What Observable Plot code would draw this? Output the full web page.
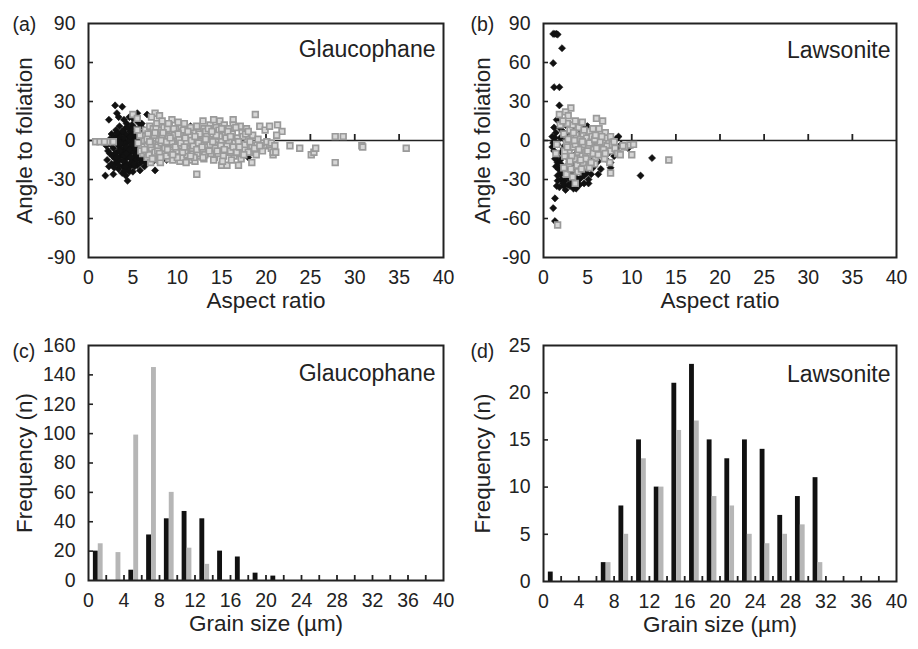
<!DOCTYPE html>
<html><head><meta charset="utf-8">
<script src="https://cdn.jsdelivr.net/npm/d3@7"></script>
<script src="https://cdn.jsdelivr.net/npm/@observablehq/plot@0.6"></script>
<style>
body{margin:0;background:#fff;}
#wrap{position:relative;width:918px;height:649px;overflow:hidden;background:#fff;}
#wrap svg{position:absolute;}
</style></head><body><div id="wrap"></div>
<script>
// ---------- DATA ----------
const aspectTicks = [0,5,10,15,20,25,30,35,40];
const angleTicks = [-90,-60,-30,0,30,60,90];
const grainTicks = [0,4,8,12,16,20,24,28,32,36,40];
const grainMinor = [2,4,6,8,10,12,14,16,18,20,22,24,26,28,30,32,34,36,38];
const binCenters = [1,3,5,7,9,11,13,15,17,19,21,23,25,27,29,31,33,35,37,39];
const glaucFreqTicks = [0,20,40,60,80,100,120,140,160];
const lawsFreqTicks = [0,5,10,15,20,25];

// Glaucophane grain-size frequencies (black / grey)
const glaucBlackFreq = [20,0,7,31,42,47,42,20,16,5,3,0,0,0,0,0,0,0,0,0];
const glaucGreyFreq  = [25,19,99,145,60,22,11,0,0,0,0,0,0,0,0,0,0,0,0,0];
// Lawsonite grain-size frequencies (black / grey)
const lawsBlackFreq = [1,0,0,2,8,15,10,21,23,15,13,15,14,7,9,11,0,0,0,0];
const lawsGreyFreq  = [0,0,0,2,5,13,10,16,17,9,8,5,4,5,6,2,0,0,0,0];

// Glaucophane: aspect ratio vs angle to foliation
const glaucBlack = [
[3.0,27],[3.8,26],[3.2,21],[3.4,18],[2.3,16],[5.5,21],[6.6,20],[11.5,11],[2.1,-15],[2.3,-20],[1.9,-27],[2.8,-26],
[4.2,-27],[4.4,-31],[4.6,-24],[5.8,-23],[7.5,-23],[3.9,-20],[3.4,-22],
[2.6,5],[2.9,2],[3.1,8],[3.3,4],[3.5,11],[3.7,6],[3.9,1],[4.1,9],[4.3,13],[4.5,3],[4.7,7],[4.9,12],[5.1,5],[5.3,9],
[5.6,14],[5.9,11],[6.1,6],[6.3,2],[6.6,8],[4.0,16],[4.6,18],[5.0,17],[6.0,13],
[2.5,-3],[2.8,-6],[3.0,-1],[3.2,-9],[3.4,-4],[3.6,-12],[3.8,-2],[4.0,-7],[4.2,-14],[4.4,-1],[4.6,-10],[4.8,-5],
[5.0,-16],[5.2,-3],[5.4,-8],[5.6,-12],[5.8,-1],[6.0,-6],[6.2,-15],[6.4,-9],[6.7,-4],[7.0,-11],[7.2,-2],
[2.7,-12],[3.1,-17],[3.5,-15],[3.9,-11],[4.3,-18],[4.7,-20],[5.1,-13],[5.5,-19],[5.9,-17],[6.3,-20],[6.8,-14],
[3.3,0],[3.7,-8],[4.1,-3],[4.5,-6],[4.9,0],[5.3,-10],[5.7,-5],[6.1,-2],[6.5,4],[7.0,-7],[7.4,3],
[2.2,-8],[2.4,1],[2.0,-4],[3.6,3],[4.2,5],[4.8,9],[5.4,2],[6.0,-10],[4.4,-22],[5.0,-24],[3.8,-25],[5.2,-20],
[6.5,-17],[3.0,-14],[2.6,-18],[4.0,-16],[4.6,-13],[5.8,-7],[6.9,0],[7.3,-16],
[3.2,6],[3.6,-6],[4.0,2],[4.4,-9],[4.8,-13],[5.2,1],[5.6,-4],[6.0,2],[3.4,-19],[4.2,-5],[4.6,0],[5.0,-8],
[5.4,-15],[3.8,7],[4.4,10],[5.0,4],[5.6,-9],[6.2,-5],[3.0,-10],[3.6,-2],[4.0,-12],[4.8,-17],[5.2,-6],[5.8,-14],
[6.6,-10],[2.9,-21],[4.1,-23],[4.9,-3],[5.5,-1],[3.5,-8],[4.3,-10],[5.1,-18],[4.7,3],[3.9,-16],[6.4,-13],
[2.4,-10],[3.2,-13],[4.6,-7],[5.4,-11],[4.2,-20],
[8.0,-4],[8.5,2],[9.0,-8],[9.5,5],[10.2,-12],[8.8,-15],[10.8,3],[12.0,-9],[13.5,-1],[16.0,0],[18.0,-13],[17.5,-6],[14.6,-3],[11.0,-6]
];
const glaucGrey = [
[0.8,-1],[1.3,-1],[2.1,-1],[2.8,-1],[1.8,-1],
[5.0,20],[5.5,17],[7.5,21],[8.0,19],[9.4,16],[8.6,13],[10.2,11],[10.8,13],[11.8,9],[12.4,7],[12.9,15],[13.7,12],
[14.1,16],[14.8,15],[15.3,12],[16.3,16],[16.3,12],[17.1,11],[17.8,9],[18.8,20],[19.3,11],[19.9,8],[20.4,11],
[21.3,12],[21.8,7],[21.2,4],[15.8,9],[13.0,9],[11.0,8],[9.8,9],[12.2,11],[14.4,10],
[22.7,-4],[23.8,-6],[25.1,-11],[25.4,-9],[25.6,-6],[27.8,3],[28.7,3],[27.8,-17],[30.8,-4],[30.9,-5],[35.8,-6],
[12.2,-26],[15.0,-19],[15.6,-19],[16.9,-19],[18.4,-17],[18.8,-9],[18.9,-11],[20.6,-6],[20.8,-11],[20.8,-9],
[19.9,-4],[19.5,-2],[20.4,-3],[17.2,-14],[16.4,-12],[14.2,-13],[13.0,-14],[11.6,-15],[10.3,-16],[9.0,-14],
[8.0,-15],[7.0,-13],[12.0,-16],[14.6,-10],[16.0,-9],[17.6,-7],[18.4,-4],[15.2,-5],[13.8,-7],
[6.2,3],[6.5,-3],[6.8,-8],[7.0,6],[7.2,-1],[7.4,-11],[7.6,2],[7.8,-5],[8.0,8],[8.2,-2],[8.4,-9],[8.6,4],
[8.8,-12],[9.0,0],[9.2,-6],[9.4,7],[9.6,-3],[9.8,-10],[10.0,2],[10.2,-7],[10.4,5],[10.6,-1],[10.8,-12],[11.0,4],
[11.2,-5],[11.4,1],[11.6,-9],[11.8,6],[12.0,-3],[12.2,2],[12.4,-7],[12.6,-12],[12.8,4],[13.0,-2],[13.2,7],
[13.4,-5],[13.6,1],[13.8,-10],[14.0,5],[14.2,-3],[14.4,1],[14.6,-7],[14.8,3],[15.0,-1],[15.2,-12],[15.4,4],
[15.6,-4],[15.8,0],[16.0,-8],[16.2,5],[16.5,-2],[16.8,2],[17.0,-10],[17.3,6],[17.6,-3],[17.9,1],[18.2,-1],[18.5,4],
[6.4,8],[6.9,11],[7.3,9],[7.7,13],[8.1,-17],[8.5,10],[9.1,12],[9.5,-15],[10.1,14],[10.5,-13],[11.1,-11],
[11.5,10],[12.3,-10],[12.9,-8],[13.5,9],[14.1,-15],[14.7,8],[15.1,-16],[15.7,7],[16.1,-15],[16.6,10],[17.4,3],
[18.0,-9],[18.7,-6],[19.1,1],[19.6,-8],[20.1,-1],[20.6,-2],[21.0,-4],[21.1,-9],
[6.0,-5],[6.3,0],[6.7,5],[7.1,-6],[7.5,-9],[7.9,1],[8.3,3],[8.7,-4],[9.3,-9],[9.7,4],[10.3,-4],[10.7,8],
[11.3,-2],[11.7,-6],[12.1,0],[12.7,-1],[13.3,3],[13.7,-3],[14.3,-6],[14.9,-4],[15.5,2],[16.3,-5],[16.9,-1],
[17.7,5],[19.3,-4],
[5.6,-2],[5.8,4],[6.1,-10],[6.6,-13],[5.5,8],[5.9,-8],[7.0,-17],[8.9,9],[9.9,-8],[10.9,-8],[11.9,-13],[12.5,5],
[13.1,-11],[14.5,-8],[15.3,-7],[16.7,-9],[17.5,-11],
[6.6,1],[7.0,-3],[7.4,4],[7.8,-8],[8.2,0],[8.6,-6],[9.0,3],[9.4,-1],[9.8,-5],[10.2,1],[10.6,-9],[11.0,-2],
[11.4,4],[11.8,-4],[12.2,-7],[6.8,-11],[7.2,-14],[7.6,9],[8.0,-10],[8.4,6],[8.8,-1],[9.2,2],[9.6,9],[10.0,-13],
[10.4,-2],[10.8,-5],[11.2,7],[11.6,0],[12.0,3],[12.4,-2],[12.8,-5],[13.2,1],[13.6,-8],[14.0,-1],[14.4,4],
[6.3,-7],[6.9,-1],[7.5,6],[8.1,-13],[8.9,-7],[9.5,-11],[10.1,5],[10.9,2],[11.5,-12],[12.9,-13],[13.9,7],
[15.0,9],[16.0,3],[17.0,-5],[18.0,7],[9.0,13],[11.0,-17],[8.3,15],[7.1,18]
];

// Lawsonite: aspect ratio vs angle to foliation
const lawsBlack = [
[1.1,82],[1.3,82],[1.5,82],[1.6,81.5],[2.1,71],[1.1,59.5],[1.2,41],[1.8,41],[1.8,27],[1.1,-52],[1.3,-44.5],
[1.3,-62],[12.3,-13.5],[11.0,-27],[8.5,3],[7.6,-21],[5.1,-33],[5.1,-30],[3.4,-37],[2.3,-35],[1.5,-35],
[1.9,-26],[7.6,-17],
[1.0,3],[1.0,-5],[1.2,-8],[1.3,2],[1.5,-12],[1.6,-17],[1.7,-22],[1.9,-15],[2.0,-30],[2.2,-25],[2.4,-31],
[2.6,-20],[2.8,-34],[3.0,-27],[3.2,-24],[3.3,-32],[3.6,-28],[3.8,-22],[4.0,-30],[4.3,-25],[4.6,-19],[4.9,-25],
[5.3,-20],[5.6,-15],[6.0,-9],[6.4,-4],[6.8,-12],[7.2,-6],[7.8,-2],[8.3,-6],[8.8,-3],
[1.4,6],[1.8,10],[2.0,15],[2.2,7],[2.5,12],[2.8,5],[3.1,9],[3.4,3],[3.8,12],[4.2,6],[4.5,13],[5.0,11],[5.5,4],
[6.0,5],[6.6,2],
[1.6,-3],[2.0,-9],[2.4,-4],[2.7,-13],[3.0,-7],[3.3,-16],[3.7,-10],[4.0,-2],[4.4,-12],[4.8,-6],[5.2,-9],[5.8,-3],
[6.2,-16],[7.0,-14],[2.5,-38],[3.7,-37],[4.1,-34],[2.9,-29],[1.6,-27],[2.1,-19],[5.0,-14],[5.4,-26],[6.5,-22],
[7.3,-10],[1.2,-1],[8.0,-12],[9.6,-6],[4.6,-33],
[1.1,-2],[1.3,-14],[1.4,-20],[1.6,-31],[1.8,-36],[2.2,-33],[2.6,-27],[3.0,-35],[3.4,-29],[4.2,-29],[4.6,-27],
[1.2,10],[1.5,16],[2.3,-6],[2.7,-22],[3.1,-14],[3.5,-19],[4.1,-21],[5.6,-21],[6.2,-26],[7.0,-2],[8.2,1],[1.9,2],[2.5,0]
];
const lawsGrey = [
[1.6,-65],[3.1,25],[1.8,20],[2.5,22],[2.8,19],[6.0,17],[6.7,15],[10.0,-11],[14.2,-15],[9.8,-3.5],[9.2,-5],
[10.2,-3],[7.6,-25],[7.5,-17],[3.6,-33],[2.6,-26],[1.5,-3],[1.4,-10],[1.9,12],
[2.3,5],[2.6,-2],[2.9,-9],[3.0,8],[3.2,2],[3.4,-5],[3.5,-14],[3.7,4],[3.8,-1],[3.9,-9],[4.0,10],[4.1,-18],
[4.2,1],[4.3,-6],[4.4,-12],[4.5,5],[4.6,-3],[4.7,-20],[4.8,-9],[4.9,2],[5.0,-15],[5.1,-4],[5.2,7],[5.3,-11],
[5.4,-1],[5.5,3],[5.7,-7],[5.9,-13],[6.0,0],[6.2,-5],[6.4,5],[6.6,-9],[6.8,-2],[7.0,6],[7.2,-4],[7.4,0],
[7.6,-8],[7.8,-3],[8.1,-6],[8.4,-10],[8.7,-11],[9.0,-4],[3.3,12],[3.6,15],[4.4,14],[5.6,9],[6.3,9],[2.9,-18],
[3.1,-22],[3.9,-24],[4.5,-17],[5.8,-18],[2.4,-12],[2.7,13],[6.9,-14],[5.2,-21],
[2.4,-8],[2.8,1],[3.2,-12],[3.6,-3],[4.0,-7],[4.4,-1],[4.8,-14],[5.2,-2],[5.6,-10],[6.0,-6],[6.4,-1],[6.8,-7],
[7.2,2],[3.0,-16],[3.4,6],[3.8,-19],[4.2,-15],[4.6,8],[5.0,-8],[5.4,-17],[5.8,1],[6.2,-11],[6.6,3],[7.0,-10],
[3.5,0],[4.3,-22],[2.7,-5],[5.9,4],[7.6,3],[8.0,-1],[2.2,15],[2.3,-21],[3.3,-28]
];

// ---------- DRAWING ----------
const FONT = "'Liberation Sans', Arial, Helvetica, sans-serif";
const INK = "#222";
const wrap = document.getElementById("wrap");

function baseStyle() {
  return {fontFamily: FONT, color: INK, background: "transparent", overflow: "visible"};
}

function scatterPanel(cfg) {
  return Plot.plot({
    width: cfg.width, height: cfg.height,
    marginLeft: cfg.ml, marginRight: cfg.mr, marginTop: cfg.mt, marginBottom: cfg.mb,
    style: baseStyle(),
    x: {domain: [0, 40]},
    y: {domain: [-90, 90]},
    marks: [
      Plot.ruleY([0], {stroke: INK, strokeWidth: 1.6}),
      Plot.ruleX(aspectTicks.slice(1, -1), {x: d => d, y1: 0, y2: 0, insetTop: -6, stroke: INK, strokeWidth: 1.8}),
      Plot.ruleY(angleTicks.slice(1, -1), {y: d => d, x1: 0, x2: 0, insetRight: -5, stroke: INK, strokeWidth: 1.6}),
      Plot.dot(cfg.black, {x: d => d[0], y: d => d[1], symbol: "diamond2", r: 3.2, fill: "#111", stroke: "#111", strokeWidth: 0.6}),
      Plot.dot(cfg.grey, {x: d => d[0], y: d => d[1], symbol: "square", r: 3.2, fill: "#d6d6d6", stroke: "#9a9a9a", strokeWidth: 1.7}),
      Plot.frame({stroke: INK, strokeWidth: 2}),
      Plot.axisX(aspectTicks, {tickSize: 0, tickPadding: 13, fontSize: 19.5, label: null, tickFormat: d => String(d)}),
      Plot.axisY(angleTicks, {tickSize: 0, tickPadding: 13, fontSize: 19.5, label: null, tickFormat: d => String(d)}),
      Plot.text(["Aspect ratio"], {frameAnchor: "bottom", dy: 50, fontSize: 22.5, text: d => d, fill: INK}),
      Plot.text(["Angle to foliation"], {frameAnchor: "left", textAnchor: "middle", dx: -(cfg.ml - 24), rotate: -90, fontSize: 22.5, text: d => d, fill: INK}),
      Plot.text([cfg.tag], {frameAnchor: "top-left", textAnchor: "start", dx: -(cfg.ml - 12), dy: -6.5, fontSize: 19.5, text: d => d, fill: INK}),
      Plot.text([cfg.title], {frameAnchor: "top-right", textAnchor: "end", dx: cfg.tdx, dy: cfg.tdy, fontSize: 23, text: d => d, fill: INK})
    ]
  });
}

function histPanel(cfg) {
  const rows = binCenters.map((c, i) => ({c, b: cfg.blackFreq[i], g: cfg.greyFreq[i]}));
  return Plot.plot({
    width: cfg.width, height: cfg.height,
    marginLeft: cfg.ml, marginRight: cfg.mr, marginTop: cfg.mt, marginBottom: cfg.mb,
    style: baseStyle(),
    x: {domain: [0, 40]},
    y: {domain: [0, cfg.ymax]},
    marks: [
      Plot.rect(rows.filter(d => d.b > 0), {x1: d => d.c - 0.45, x2: d => d.c + 0.1, y1: 0, y2: d => d.b, fill: "#111"}),
      Plot.rect(rows.filter(d => d.g > 0), {x1: d => d.c + 0.1, x2: d => d.c + 0.65, y1: 0, y2: d => d.g, fill: "#b6b6b6"}),
      Plot.ruleX(grainMinor, {x: d => d, y1: 0, y2: 0, insetTop: -5, stroke: INK, strokeWidth: 1.8}),
      Plot.ruleY(cfg.yticks.slice(1, -1), {y: d => d, x1: 0, x2: 0, insetRight: -5, stroke: INK, strokeWidth: 1.6}),
      Plot.frame({stroke: INK, strokeWidth: 2}),
      Plot.axisX(grainTicks, {tickSize: 0, tickPadding: 13, fontSize: 19.5, label: null, tickFormat: d => String(d)}),
      Plot.axisY(cfg.yticks, {tickSize: 0, tickPadding: 13, fontSize: 19.5, label: null, tickFormat: d => String(d)}),
      Plot.text(["Grain size (µm)"], {frameAnchor: "bottom", dy: 50, fontSize: 22.5, text: d => d, fill: INK}),
      Plot.text(["Frequency (n)"], {frameAnchor: "left", textAnchor: "middle", dx: -(cfg.ml - 24), rotate: -90, fontSize: 22.5, text: d => d, fill: INK}),
      Plot.text([cfg.tag], {frameAnchor: "top-left", textAnchor: "start", dx: -(cfg.ml - 12), dy: -1.5, fontSize: 19.5, text: d => d, fill: INK}),
      Plot.text([cfg.title], {frameAnchor: "top-right", textAnchor: "end", dx: cfg.tdx, dy: cfg.tdy, fontSize: 23, text: d => d, fill: INK})
    ]
  });
}

function place(svg, left, top) {
  svg.style.left = left + "px";
  svg.style.top = top + "px";
  wrap.appendChild(svg);
}

place(scatterPanel({width: 459, height: 320, ml: 88, mr: 16, mt: 23, mb: 63,
  black: glaucBlack, grey: glaucGrey, tag: "(a)", title: "Glaucophane", tdx: -8, tdy: 17.5}), 0, 0);
place(scatterPanel({width: 460, height: 320, ml: 85, mr: 22, mt: 23, mb: 63,
  black: lawsBlack, grey: lawsGrey, tag: "(b)", title: "Lawsonite", tdx: -6, tdy: 18.5}), 458, 0);
place(histPanel({width: 459, height: 329, ml: 88, mr: 16, mt: 25, mb: 69, ymax: 160, yticks: glaucFreqTicks,
  blackFreq: glaucBlackFreq, greyFreq: glaucGreyFreq, tag: "(c)", title: "Glaucophane", tdx: -8, tdy: 19.5}), 0, 320);
place(histPanel({width: 460, height: 329, ml: 85, mr: 22, mt: 25, mb: 68, ymax: 25, yticks: lawsFreqTicks,
  blackFreq: lawsBlackFreq, greyFreq: lawsGreyFreq, tag: "(d)", title: "Lawsonite", tdx: -6, tdy: 20}), 458, 320);
</script></body></html>
